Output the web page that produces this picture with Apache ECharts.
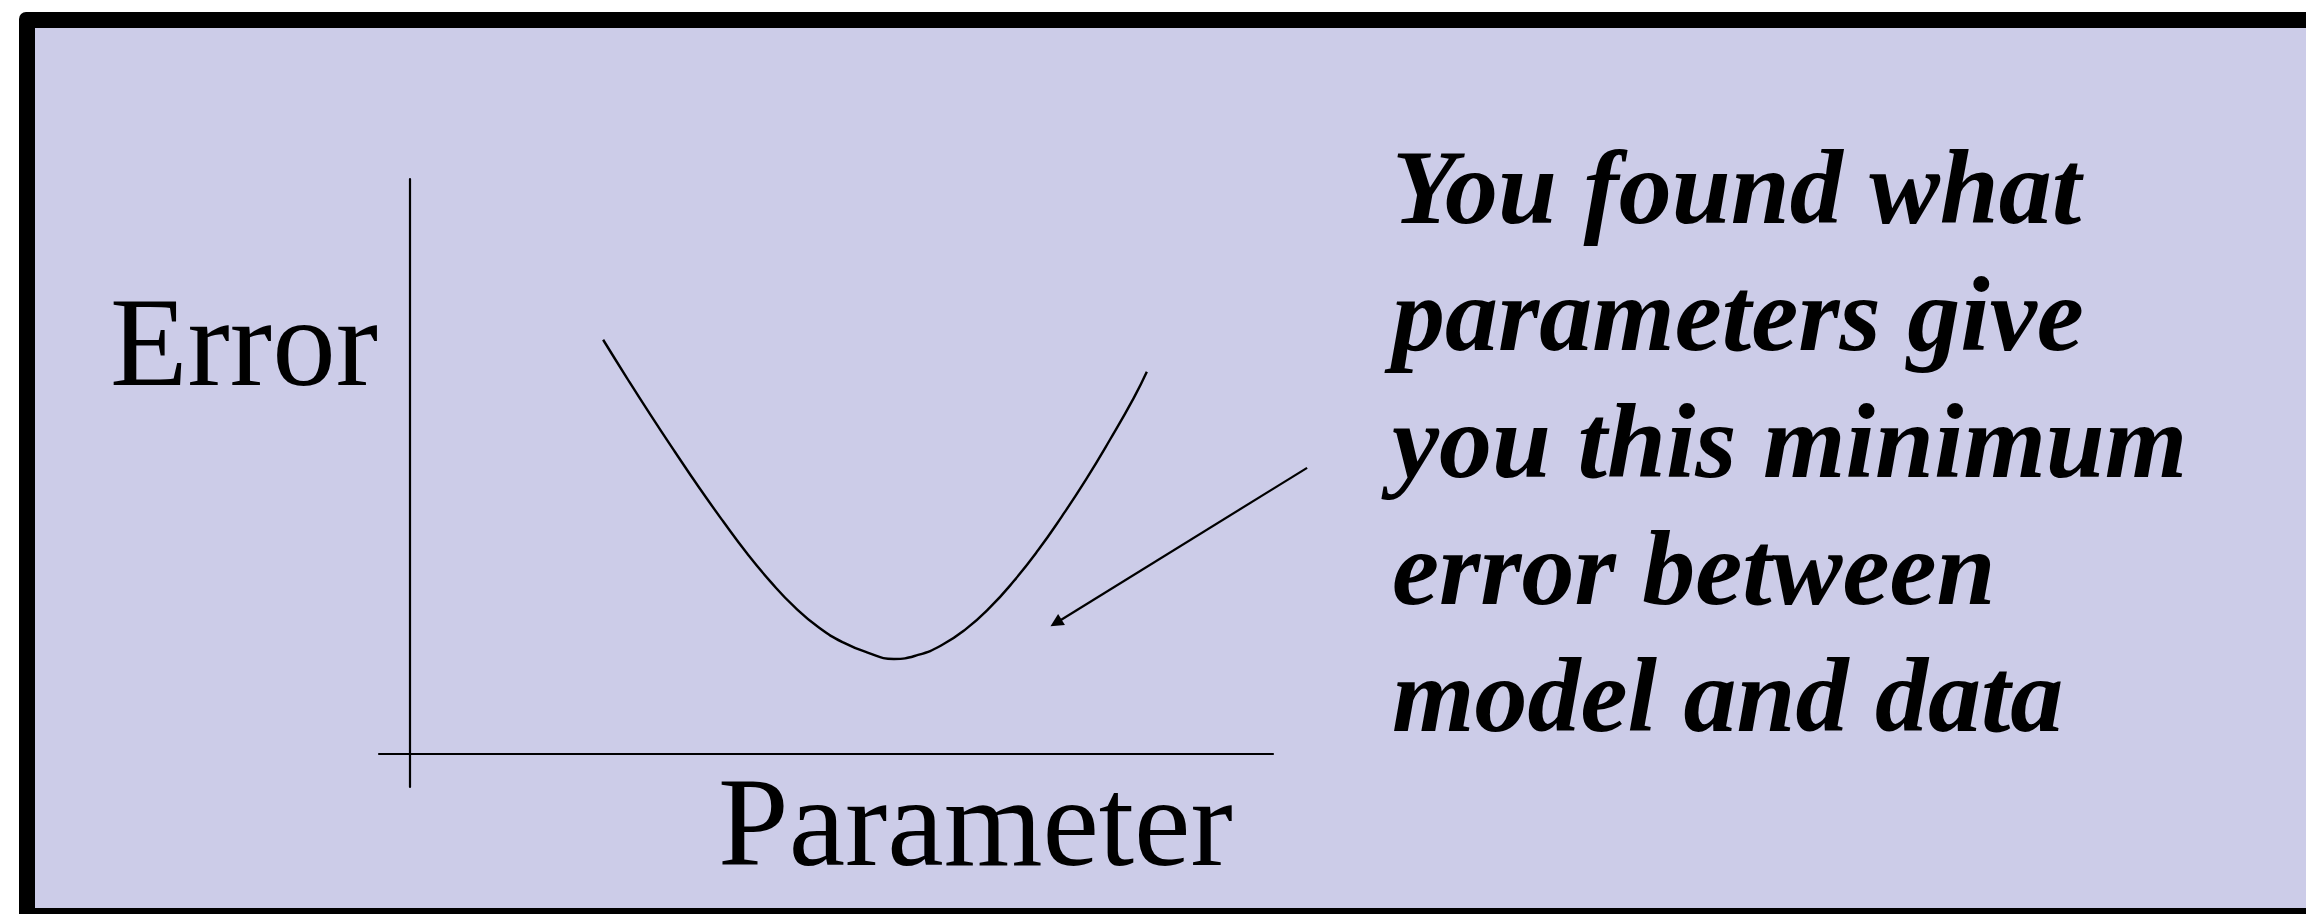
<!DOCTYPE html>
<html>
<head>
<meta charset="utf-8">
<script src="https://cdn.jsdelivr.net/npm/echarts@6/dist/echarts.min.js"></script>
<style>
  html, body { margin: 0; padding: 0; background: #ffffff; }
  #chart { width: 2306px; height: 914px; }
</style>
</head>
<body>
<div id="chart"></div>
<script>
// ---- data (axis units: parameter on x, error on y) ----
var curveX = [6.23, 7.00, 7.77, 8.55, 9.32, 10.10, 10.87, 11.65, 12.42, 13.19, 13.97, 14.74, 15.61,
              16.39, 17.16, 17.94, 18.71, 19.48, 20.26, 21.03, 21.81, 22.58, 23.35, 23.77];
var curveY = [12.55, 11.39, 10.26, 9.15, 8.08, 7.05, 6.08, 5.20, 4.44, 3.83, 3.38, 3.08, 2.88,
              3.00, 3.30, 3.79, 4.44, 5.24, 6.17, 7.20, 8.32, 9.52, 10.79, 11.58];
var arrowFrom = [28.94, 8.67];
var arrowTo = [20.84, 3.97];
var yAxisName = 'Error';
var xAxisName = 'Parameter';
var noteLines = ['You found what', 'parameters give', 'you this minimum', 'error between', 'model and data'];

var curve = curveX.map(function (x, i) { return [x, curveY[i]]; });

var chart = echarts.init(document.getElementById('chart'), null, { renderer: 'svg' });
chart.setOption({
  animation: false,
  backgroundColor: '#ffffff',
  grid: { left: 379, top: 179, width: 894, height: 608, containLabel: false },
  xAxis: {
    type: 'value', min: -1, max: 27.84,
    axisLine: { show: true, onZero: true, lineStyle: { color: '#000', width: 2.2 } },
    axisTick: { show: false }, axisLabel: { show: false }, splitLine: { show: false }
  },
  yAxis: {
    type: 'value', min: -1, max: 17.42,
    axisLine: { show: true, onZero: true, lineStyle: { color: '#000', width: 2.2 } },
    axisTick: { show: false }, axisLabel: { show: false }, splitLine: { show: false }
  },
  series: [{
    type: 'line',
    data: curve,
    smooth: 0.5,
    showSymbol: false,
    clip: false,
    lineStyle: { color: '#000', width: 2.4 }
  }, {
    type: 'lines',
    coordinateSystem: 'cartesian2d',
    clip: false,
    silent: true,
    symbol: ['none', 'triangle'],
    symbolSize: 13,
    lineStyle: { color: '#000', width: 2.2, opacity: 1, curveness: 0 },
    data: [{ coords: [arrowFrom, arrowTo] }]
  }],
  graphic: [
    { type: 'rect', z: -20, silent: true,
      shape: { x: 19, y: 12, width: 2400, height: 1000, r: 7 },
      style: { fill: '#000000' } },
    { type: 'rect', z: -19, silent: true,
      shape: { x: 35, y: 28, width: 2400, height: 880 },
      style: { fill: '#CCCCE8' } },
    { type: 'text', z: 10, silent: true,
      style: { text: yAxisName, x: 110, y: 342, font: '127px "Liberation Serif"',
               fill: '#000', textAlign: 'left', textVerticalAlign: 'middle' } },
    { type: 'text', z: 10, silent: true,
      style: { text: xAxisName, x: 718, y: 822, font: '127px "Liberation Serif"',
               fill: '#000', textAlign: 'left', textVerticalAlign: 'middle' } },
    { type: 'text', z: 10, silent: true,
      style: { text: noteLines.join('\n'), x: 1392, y: 124, lineHeight: 127,
               font: 'italic bold 106px "Liberation Serif"',
               fill: '#000', textAlign: 'left', textVerticalAlign: 'top' } }
  ]
});
</script>
</body>
</html>
